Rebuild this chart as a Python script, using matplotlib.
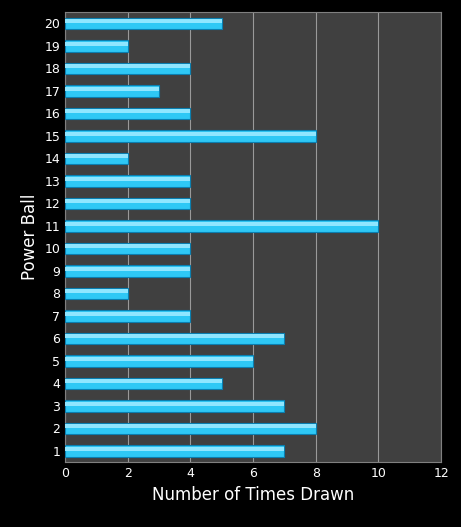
import matplotlib
matplotlib.use("Agg")
import matplotlib.pyplot as plt

balls = [str(i) for i in range(1, 21)]
counts = [7, 8, 7, 5, 6, 7, 4, 2, 4, 4, 10, 4, 4, 2, 8, 4, 3, 4, 2, 5]
xticks = [0, 2, 4, 6, 8, 10, 12]

fig = plt.figure(figsize=(4.61, 5.27), dpi=100, facecolor="black")
ax = fig.add_axes([0.141, 0.123, 0.816, 0.854])
ax.set_facecolor("#404040")
y = list(range(len(balls)))
ax.barh(y, counts, height=0.5, color="#2ec8f5", edgecolor="#0a7fb0", linewidth=0.8, zorder=3)
ax.barh(y, counts, height=0.18, left=0, color="#8fe6ff", linewidth=0, zorder=4, align="edge")
ax.set_xlim(0, 12)
ax.set_ylim(-0.5, len(balls) - 0.5)
ax.set_xticks(xticks)
ax.set_yticks(y)
ax.set_yticklabels(balls)
ax.grid(axis="x", color="#9a9a9a", linewidth=0.8, zorder=0)
for s in ax.spines.values():
    s.set_color("#808080")
ax.tick_params(colors="white", labelsize=9, length=0)
ax.set_xlabel("Number of Times Drawn", color="white", fontsize=12)
ax.set_ylabel("Power Ball", color="white", fontsize=12)
fig.savefig("out.png", dpi=100, facecolor="black")
